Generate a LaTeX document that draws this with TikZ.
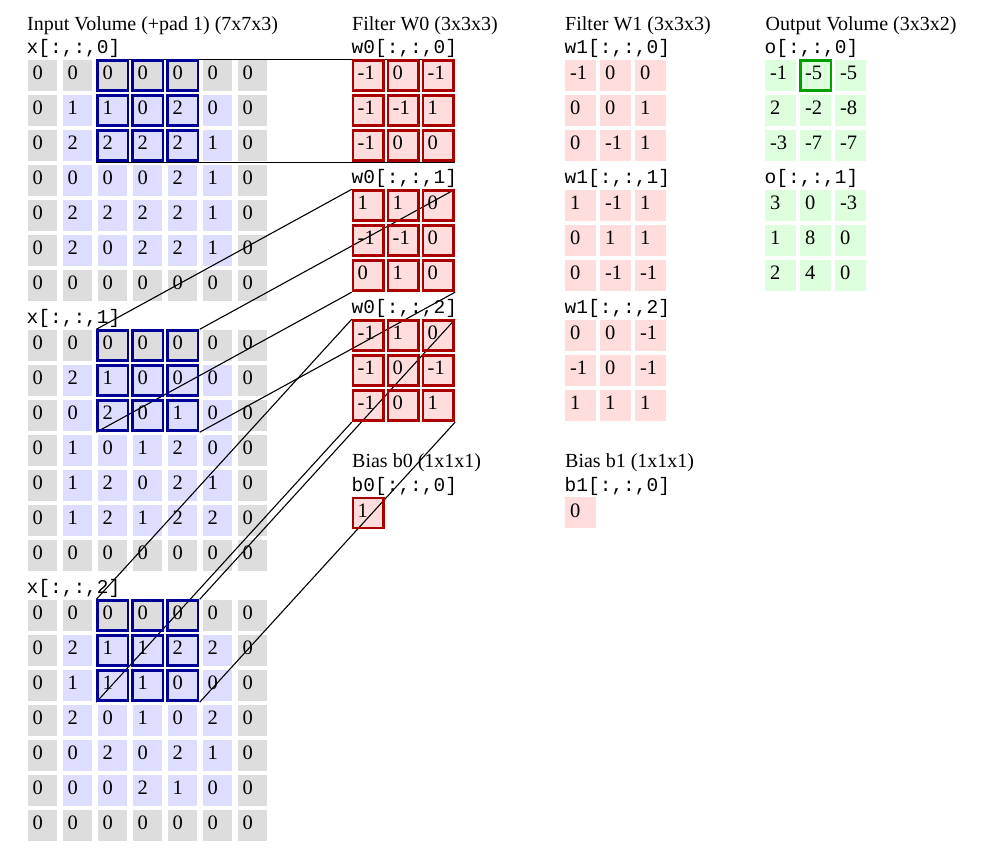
\documentclass[tikz,border=0pt]{standalone}
\usepackage{fontspec}
\setmainfont{Liberation Serif}
\newfontfamily\monofont{Liberation Mono}
\usetikzlibrary{calc}
\definecolor{padgray}{RGB}{221,221,221}
\definecolor{inblue}{RGB}{221,221,255}
\definecolor{wpink}{RGB}{255,221,221}
\definecolor{ogreen}{RGB}{221,255,221}
\definecolor{hblue}{RGB}{0,0,150}
\definecolor{hred}{RGB}{170,0,0}
\definecolor{hgreen}{RGB}{0,160,0}

\tikzset{
  titletext/.style={anchor=base west,inner sep=0pt,font=\fontsize{20}{24}\selectfont},
  labeltext/.style={anchor=base west,inner sep=0pt,font=\monofont\fontsize{19.5}{23}\selectfont},
  cellbg/.style={anchor=north west,inner sep=0pt,minimum height=31pt,draw=none},
  numtext/.style={anchor=base west,inner sep=0pt,font=\fontsize{20.5}{24}\selectfont},
  regionbox/.style={anchor=north west,inner sep=0pt,minimum width=103pt,minimum height=102.5pt,draw=none},
  conn/.style={draw=black,line width=1.1pt},
  hibox/.style={line width=2.5pt},
}

% input grid: name, x0, y0, rows
\newcommand{\inpgrid}[4]{%
  \foreach \row [count=\i from 0] in {#4} {%
    \foreach \v [count=\j from 0] in \row {%
      \pgfmathtruncatemacro\isp{or(or(\i==0,\i==6),or(\j==0,\j==6))}%
      \ifnum\isp=1 \def\cf{padgray}\else\def\cf{inblue}\fi
      \node[cellbg,minimum width=29.5pt,fill=\cf] (#1-\i-\j) at ({#2+35*\j},{#3+35*\i}) {};
      \node[numtext] (#1-\i-\j-t) at ({#2+35*\j+5.2},{#3+35*\i+20.4}) {\v};
    }%
  }%
}
% small grid: name, x0, y0, fill, rows
\newcommand{\smgrid}[5]{%
  \foreach \row [count=\i from 0] in {#5} {%
    \foreach \v [count=\j from 0] in \row {%
      \node[cellbg,minimum width=31pt,fill=#4] (#1-\i-\j) at ({#2+35*\j},{#3+35*\i}) {};
      \node[numtext] (#1-\i-\j-t) at ({#2+35*\j+4.8},{#3+35*\i+20.4}) {\v};
    }%
  }%
}
% highlight box on a cell node: node, colour
\newcommand{\hicell}[2]{%
  \draw[hibox,#2] ($(#1.north west)+(0.25,1.25)$) rectangle ($(#1.north west)+(30.75,31.25)$);
}

\begin{document}
\begin{tikzpicture}[x=1pt,y=-1pt]
\useasboundingbox (0,0) rectangle (981,865);

% titles
\node[titletext] (tin) at (27,30) {Input Volume (+pad 1) (7x7x3)};
\node[titletext] (tw0) at (352,30) {Filter W0 (3x3x3)};
\node[titletext] (tw1) at (565,30) {Filter W1 (3x3x3)};
\node[titletext] (tout) at (765.5,30) {Output Volume (3x3x2)};
\node[titletext] (tb0) at (352,467) {Bias b0 (1x1x1)};
\node[titletext] (tb1) at (565,467) {Bias b1 (1x1x1)};

% labels
\node[labeltext] (lx0) at (26.5,53.8) {x[:,:,0]};
\node[labeltext] (lx1) at (26.5,323.8) {x[:,:,1]};
\node[labeltext] (lx2) at (26.5,593.8) {x[:,:,2]};
\node[labeltext] (lw00) at (351.5,53.8) {w0[:,:,0]};
\node[labeltext] (lw01) at (351.5,183.8) {w0[:,:,1]};
\node[labeltext] (lw02) at (351.5,313.8) {w0[:,:,2]};
\node[labeltext] (lb0) at (351.5,491.2) {b0[:,:,0]};
\node[labeltext] (lw10) at (564.5,53.8) {w1[:,:,0]};
\node[labeltext] (lw11) at (564.5,183.8) {w1[:,:,1]};
\node[labeltext] (lw12) at (564.5,313.8) {w1[:,:,2]};
\node[labeltext] (lb1) at (564.5,491.2) {b1[:,:,0]};
\node[labeltext] (lo0) at (764.5,53.8) {o[:,:,0]};
\node[labeltext] (lo1) at (764.5,183.8) {o[:,:,1]};

% input volume
\inpgrid{xa}{27.3}{59.3}{{0,0,0,0,0,0,0},{0,1,1,0,2,0,0},{0,2,2,2,2,1,0},{0,0,0,0,2,1,0},{0,2,2,2,2,1,0},{0,2,0,2,2,1,0},{0,0,0,0,0,0,0}}
\inpgrid{xb}{27.3}{329.3}{{0,0,0,0,0,0,0},{0,2,1,0,0,0,0},{0,0,2,0,1,0,0},{0,1,0,1,2,0,0},{0,1,2,0,2,1,0},{0,1,2,1,2,2,0},{0,0,0,0,0,0,0}}
\inpgrid{xc}{27.3}{599.3}{{0,0,0,0,0,0,0},{0,2,1,1,2,2,0},{0,1,1,1,0,0,0},{0,2,0,1,0,2,0},{0,0,2,0,2,1,0},{0,0,0,2,1,0,0},{0,0,0,0,0,0,0}}

% filter W0
\smgrid{wa}{352.7}{59.3}{wpink}{{-1,0,-1},{-1,-1,1},{-1,0,0}}
\smgrid{wb}{352.7}{189.3}{wpink}{{1,1,0},{-1,-1,0},{0,1,0}}
\smgrid{wc}{352.7}{319.3}{wpink}{{-1,1,0},{-1,0,-1},{-1,0,1}}
\smgrid{bz}{352.7}{496.7}{wpink}{{1}}

% filter W1
\smgrid{va}{565}{59.3}{wpink}{{-1,0,0},{0,0,1},{0,-1,1}}
\smgrid{vb}{565}{189.3}{wpink}{{1,-1,1},{0,1,1},{0,-1,-1}}
\smgrid{vc}{565}{319.3}{wpink}{{0,0,-1},{-1,0,-1},{1,1,1}}
\smgrid{bo}{565}{496.7}{wpink}{{0}}

% output
\smgrid{oa}{765}{59.3}{ogreen}{{-1,-5,-5},{2,-2,-8},{-3,-7,-7}}
\smgrid{ob}{765}{189.3}{ogreen}{{3,0,-3},{1,8,0},{2,4,0}}

% regions used by the connectors
\foreach \g/\w in {xa/wa,xb/wb,xc/wc} {
  \node[regionbox] (r\g) at ($(\g-0-2.north west)+(-1,0)$) {};
  \node[regionbox] (r\w) at ($(\w-0-0.north west)+(-1,0)$) {};
}

% connectors
\foreach \g/\w in {xa/wa,xb/wb,xc/wc} {
  \draw[conn] (r\g.north west) -- (r\w.north west);
  \draw[conn] (r\g.north east) -- (r\w.north east);
  \draw[conn] (r\g.south west) -- (r\w.south west);
  \draw[conn] (r\g.south east) -- (r\w.south east);
}

% highlight boxes
\foreach \g in {xa,xb,xc} {
  \foreach \i in {0,1,2} {
    \foreach \j in {2,3,4} {
      \hicell{\g-\i-\j}{hblue}
    }
  }
}
\foreach \w in {wa,wb,wc} {
  \foreach \i in {0,1,2} {
    \foreach \j in {0,1,2} {
      \hicell{\w-\i-\j}{hred}
    }
  }
}
\hicell{bz-0-0}{hred}
\hicell{oa-0-1}{hgreen}

\end{tikzpicture}
\end{document}
